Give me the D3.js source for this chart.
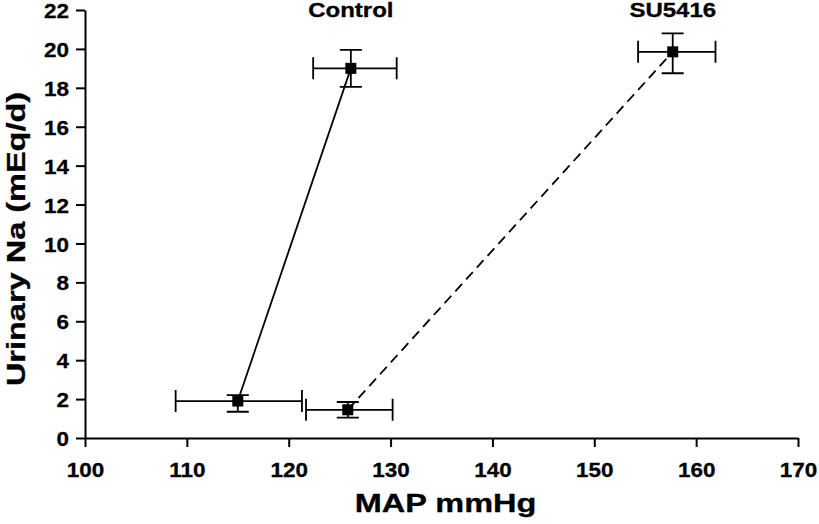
<!DOCTYPE html>
<html lang="en">
<head>
    <meta charset="UTF-8">
    <title>Urinary Na vs MAP</title>
    <script src="https://d3js.org/d3.v7.min.js"></script>
    <style>
        body { margin: 0; background: #fff; }
        text { font-family: Arial, "Liberation Sans", sans-serif; font-weight: bold; fill: #000; stroke: #000; stroke-width: 0.3px; }
        .axis path, .axis line { stroke: #000; stroke-width: 2px; }
        .axis text { font-size: 21px; font-family: Arial, "Liberation Sans", sans-serif; }
        .err { stroke: #000; stroke-width: 1.8px; fill: none; }
    </style>
</head>
<body>
<script>
    // group names
    const groups = ["Control", "SU5416"];
    // MAP (mmHg): mean, low and high ends of error bar
    const mapMean = [[115.0, 126.1], [125.8, 157.7]];
    const mapLo = [[108.9, 122.4], [121.7, 154.3]];
    const mapHi = [[121.3, 130.6], [130.2, 161.9]];
    // urinary Na (mEq/d): mean, low and high
    const naMean = [[1.9, 19.0], [1.45, 19.85]];
    const naLo = [[1.35, 18.05], [1.05, 18.75]];
    const naHi = [[2.2, 19.95], [1.85, 20.8]];
    const xTicks = [100, 110, 120, 130, 140, 150, 160, 170];
    const yTicks = [0, 2, 4, 6, 8, 10, 12, 14, 16, 18, 20, 22];

    const width = 819, height = 524;
    const margin = { top: 10, right: 21, bottom: 86, left: 85 };

    // the original's lettering is wider than Arial
    const tickStretch = 1.07, titleStretch = 1.3, labelStretch = 1.2;

    const svg = d3.select("body").append("svg")
        .attr("width", width)
        .attr("height", height);

    const x = d3.scaleLinear().domain([100, 170]).range([margin.left, width - margin.right]);
    const y = d3.scaleLinear().domain([0, 22]).range([height - margin.bottom, margin.top]);

    // axes
    svg.append("g")
        .attr("class", "axis")
        .attr("transform", `translate(0,${y(0)})`)
        .call(d3.axisBottom(x).tickValues(xTicks).tickSize(9).tickSizeOuter(0))
        .call(g => g.selectAll("text")
            .attr("y", 39).attr("dy", 0)
            .attr("transform", `scale(${tickStretch},1)`));

    svg.append("g")
        .attr("class", "axis")
        .attr("transform", `translate(${x(100)},0)`)
        .call(d3.axisLeft(y).tickValues(yTicks).tickSize(9).tickSizeOuter(0))
        .call(g => g.selectAll("text")
            .attr("x", -16 / tickStretch).attr("dy", "0.36em")
            .attr("transform", `scale(${tickStretch},1)`));

    // axis titles
    svg.append("text")
        .attr("transform", `translate(${(x(100) + x(170)) / 2 + 4},512) scale(${titleStretch},1)`)
        .attr("text-anchor", "middle")
        .style("font-size", "25px")
        .text("MAP mmHg");

    svg.append("text")
        .attr("transform", `translate(25,${(y(0) + y(22)) / 2 + 15}) rotate(-90) scale(${titleStretch},1)`)
        .attr("text-anchor", "middle")
        .style("font-size", "25px")
        .text("Urinary Na (mEq/d)");

    const cap = 11;

    groups.forEach((name, gi) => {
        const pts = mapMean[gi].map((m, i) => ({
            x: m, y: naMean[gi][i],
            xl: mapLo[gi][i], xh: mapHi[gi][i],
            yl: naLo[gi][i], yh: naHi[gi][i]
        }));

        // connecting line
        svg.append("path")
            .datum(pts)
            .attr("fill", "none")
            .attr("stroke", "#000")
            .attr("stroke-width", 1.8)
            .attr("stroke-dasharray", gi === 1 ? "10,6" : null)
            .attr("d", d3.line().x(d => x(d.x)).y(d => y(d.y)));

        const g = svg.append("g");
        pts.forEach(d => {
            // horizontal error bar
            g.append("path").attr("class", "err")
                .attr("d", `M${x(d.xl)},${y(d.y)}H${x(d.xh)}` +
                    `M${x(d.xl)},${y(d.y) - cap}V${y(d.y) + cap}` +
                    `M${x(d.xh)},${y(d.y) - cap}V${y(d.y) + cap}`);
            // vertical error bar
            g.append("path").attr("class", "err")
                .attr("d", `M${x(d.x)},${y(d.yl)}V${y(d.yh)}` +
                    `M${x(d.x) - cap},${y(d.yl)}H${x(d.x) + cap}` +
                    `M${x(d.x) - cap},${y(d.yh)}H${x(d.x) + cap}`);
            g.append("rect")
                .attr("x", x(d.x) - 5.5)
                .attr("y", y(d.y) - 5.5)
                .attr("width", 11)
                .attr("height", 11)
                .attr("fill", "#000");
        });

        // group label above the upper point
        svg.append("text")
            .attr("transform", `translate(${x(pts[1].x)},17) scale(${labelStretch},1)`)
            .attr("text-anchor", "middle")
            .style("font-size", "20px")
            .text(name);
    });
</script>
</body>
</html>
